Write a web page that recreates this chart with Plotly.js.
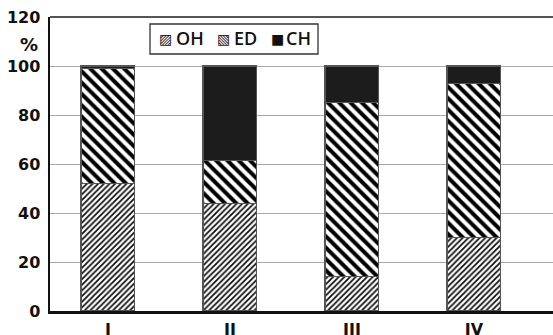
<!DOCTYPE html>
<html><head><meta charset="utf-8">
<script src="https://cdn.plot.ly/plotly-3.0.1.min.js"></script>
<style>html,body{margin:0;padding:0;background:#fff}</style>
</head><body>
<div id="chart" style="width:553px;height:335px"></div>
<script>
const categories = ["I", "II", "III", "IV"];
const OH = [52, 44, 14, 30];
const ED = [47, 17.5, 71, 63];
const CH = [1, 38.5, 15, 7];
const seriesNames = ["OH", "ED", "CH"];
const legendIcons = ["\u25A8", "\u25A7", "\u25A0"];

const lineStyle = {color: "#555", width: 1.3};
const traces = [
  {x: categories, y: OH, name: seriesNames[0], type: "bar",
   marker: {color: "#fff", line: lineStyle,
            pattern: {shape: "/", size: 4, solidity: 0.45, fgcolor: "#111", bgcolor: "#fff", fillmode: "replace"}}},
  {x: categories, y: ED, name: seriesNames[1], type: "bar",
   marker: {color: "#fff", line: lineStyle,
            pattern: {shape: "\\", size: 8, solidity: 0.5, fgcolor: "#000", bgcolor: "#fff", fillmode: "replace"}}},
  {x: categories, y: CH, name: seriesNames[2], type: "bar",
   marker: {color: "#1c1c1c", line: lineStyle}}
];

// plot area in pixels: x 50..553, y 17..311
const px = v => (v - 50) / 503;
const py = v => (311 - v) / 294;

const legendIconX = [158, 216, 270];
const legendTextX = [175, 233, 285];
const annotations = [{text: "%", xref: "paper", yref: "paper", x: -0.02, y: 0.905, xanchor: "right", yanchor: "middle",
                 showarrow: false, font: {size: 18, family: "DejaVu Sans", weight: "bold"}}];
seriesNames.forEach((n, i) => {
  annotations.push({text: legendIcons[i], xref: "paper", yref: "paper", x: px(legendIconX[i] - 1), y: py(39),
    xanchor: "left", yanchor: "middle", showarrow: false, font: {size: 14, family: "DejaVu Sans", color: "#111"}});
  annotations.push({text: n, xref: "paper", yref: "paper", x: px(legendTextX[i] - 1), y: py(38),
    xanchor: "left", yanchor: "middle", showarrow: false, font: {size: 18, family: "Open Sans", weight: 600, color: "#111"}});
});

const layout = {
  width: 553, height: 335,
  margin: {l: 50, r: 0, t: 17, b: 24},
  barmode: "stack",
  bargap: 0.56,
  paper_bgcolor: "#fff", plot_bgcolor: "#fff",
  font: {family: "DejaVu Sans", color: "#111"},
  xaxis: {range: [-0.475, 3.648], showgrid: false, showline: true, linecolor: "#111", linewidth: 2.5,
          ticks: "", ticklabelstandoff: 2, tickfont: {size: 16, family: "DejaVu Sans", weight: "bold"}, zeroline: false},
  yaxis: {range: [0, 120], dtick: 20, showgrid: true, gridcolor: "#aaa", gridwidth: 1,
          showline: true, linecolor: "#111", linewidth: 2.5, ticks: "", ticklabelstandoff: 4,
          tickfont: {size: 16, family: "DejaVu Sans", weight: "bold"}, zeroline: false},
  showlegend: false,
  shapes: [
    {type: "line", xref: "paper", yref: "paper", x0: 0, x1: 1, y0: 1, y1: 1, line: {color: "#555", width: 2}},
    {type: "rect", xref: "paper", yref: "paper", x0: px(150), x1: px(318), y0: py(54), y1: py(24),
     fillcolor: "#fff", line: {color: "#333", width: 1.3}, layer: "above"}
  ],
  annotations: annotations
};

Plotly.newPlot("chart", traces, layout, {displayModeBar: false, staticPlot: true});
</script>
</body></html>
